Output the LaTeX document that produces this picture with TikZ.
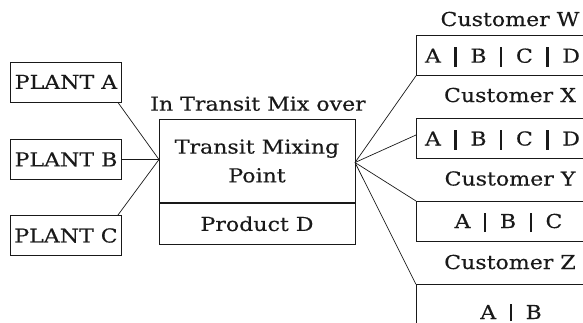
\documentclass[tikz,border=0pt]{standalone}
\usepackage{fontspec}
\setmainfont{DejaVu Serif}[FakeStretch=1.15, FakeBold=0.3]
\newcommand\vsep{\hspace{13.5pt}\rule[-4pt]{2.4pt}{19.4pt}\hspace{13.5pt}}
\newcommand\vsepz{\hspace{13.5pt}\rule[-2pt]{2.4pt}{17.4pt}\hspace{13.5pt}}
\begin{document}
\begin{tikzpicture}[x=1pt,y=-1pt,
  box/.style={draw=black!90, line width=0.8pt, inner sep=0pt},
  txt/.style={inner sep=0pt, text=black!90, font=\fontsize{19.2}{28.7}\selectfont},
  conn/.style={draw=black!90, line width=0.7pt}]
\useasboundingbox (0,0) rectangle (583,322);
\clip (0,0) rectangle (583,322);
% plants
\node[box, txt, minimum width=111pt, minimum height=40pt] (pa) at (66,82) {PLANT A};
\node[box, txt, minimum width=111pt, minimum height=40pt] (pb) at (66,159.5) {PLANT B};
\node[box, txt, minimum width=111pt, minimum height=40pt] (pc) at (66,235.5) {PLANT C};
% mixing point
\node[box, txt, align=center, minimum width=196pt, minimum height=83.4pt] (mt) at (257,161) {Transit Mixing\\Point};
\node[box, txt, minimum width=196pt, minimum height=40.6pt, anchor=north] (mb) at (mt.south) {Product D};
\node[txt, anchor=base] (title) at (258,110.7) {In Transit Mix over};
\coordinate (jl) at (159,159.5);
\coordinate (jr) at (355,162.5);
% customers
\node[box, minimum width=184pt, minimum height=40.5pt, anchor=north west] (cw) at (416,34.5) {};
\node[box, minimum width=184pt, minimum height=40.5pt, anchor=north west] (cx) at (416,117.7) {};
\node[box, minimum width=184pt, minimum height=40pt, anchor=north west] (cy) at (416,201) {};
\node[box, minimum width=184pt, minimum height=60pt, anchor=north west] (cz) at (416,284.3) {};
\node[txt, anchor=base] (lw) at (510,26) {Customer W};
\node[txt, anchor=base] (lx) at (510,102) {Customer X};
\node[txt, anchor=base] (ly) at (510,185.5) {Customer Y};
\node[txt, anchor=base] (lz) at (510,269) {Customer Z};
\node[txt, anchor=base] (tw) at (502.5,62.7) {A\vsep B\vsep C\vsep D};
\node[txt, anchor=base] (tx) at (502.5,145.5) {A\vsep B\vsep C\vsep D};
\node[txt, anchor=base] (ty) at (508.5,228) {A\vsep B\vsep C};
\node[txt, anchor=base] (tz) at (511,319) {A\vsepz B};
% connectors
\draw[conn] ([xshift=-4pt]pa.south east) -- (jl);
\draw[conn] (pb.east) -- (jl);
\draw[conn] ([xshift=-4pt]pc.north east) -- (jl);
\draw[conn] (jr) -- (cw.south west);
\draw[conn] (jr) -- ([yshift=-17.3pt]cx.north west);
\draw[conn] (jr) -- (cy.north west);
\draw[conn] (jr) -- (cz.north west);
\end{tikzpicture}
\end{document}
